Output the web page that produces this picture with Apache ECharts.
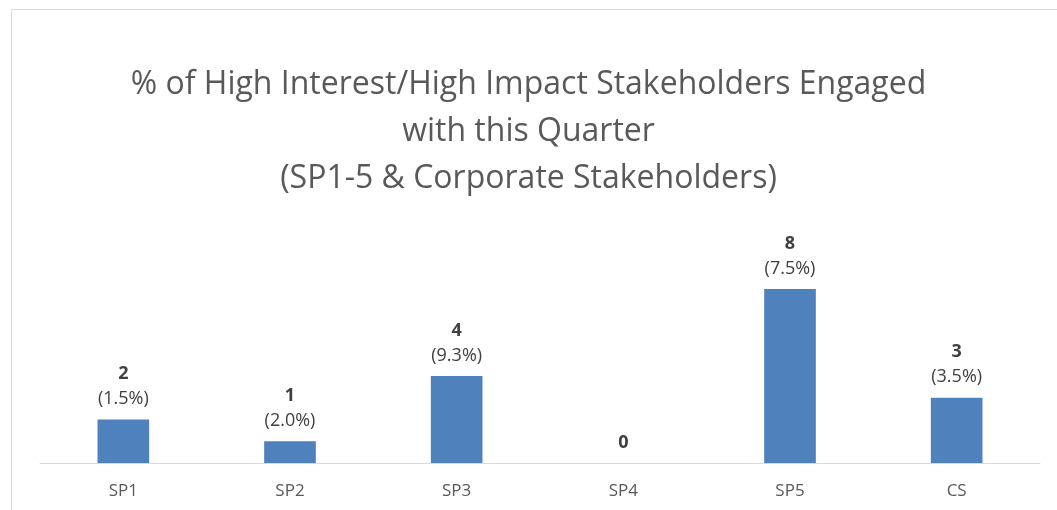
<!DOCTYPE html>
<html>
<head>
<meta charset="utf-8">
<title>Stakeholders Engaged</title>
<script src="https://cdn.jsdelivr.net/npm/echarts@6/dist/echarts.min.js"></script>
<style>
  html, body { margin: 0; padding: 0; background: #fff; }
  #myChartStakeholders { width: 1057px; height: 510px; }
</style>
</head>
<body>
<div id="myChartStakeholders"></div>
<script>
// 数据
var categories = ['SP1', 'SP2', 'SP3', 'SP4', 'SP5', 'CS'];
var engagedCounts = [2, 1, 4, 0, 8, 3];
var engagedPercents = ['1.5%', '2.0%', '9.3%', null, '7.5%', '3.5%'];

var myChart = echarts.init(document.getElementById('myChartStakeholders'));

var option = {
  backgroundColor: '#fff',
  title: {
    text: '% of High Interest/High Impact Stakeholders Engaged\nwith this Quarter\n(SP1-5 & Corporate Stakeholders)',
    left: 'center',
    top: 56,
    textStyle: {
      fontFamily: 'Open Sans',
      fontWeight: 'normal',
      fontSize: 32,
      lineHeight: 47,
      color: '#595959'
    }
  },
  // 外框线
  graphic: [{
    type: 'polyline',
    shape: { points: [[11.5, 510], [11.5, 9.5], [1057, 9.5]] },
    style: { stroke: '#d9d9d9', lineWidth: 1, fill: null },
    silent: true
  }],
  grid: {
    left: 40,
    right: 17,
    top: 245.5,
    bottom: 47,
    containLabel: false
  },
  xAxis: {
    type: 'category',
    data: categories,
    axisLine: { lineStyle: { color: '#d9d9d9', width: 1 } },
    axisTick: { show: false },
    axisLabel: {
      color: '#595959',
      fontFamily: 'Open Sans',
      fontSize: 17,
      margin: 20
    }
  },
  yAxis: {
    type: 'value',
    min: 0,
    max: 10,
    show: false,
    splitLine: { show: false }
  },
  series: [{
    type: 'bar',
    data: engagedCounts,
    barWidth: '31%',
    itemStyle: { color: '#4f81bd' },
    label: {
      show: true,
      position: 'top',
      distance: 8,
      formatter: function (p) {
        var pct = engagedPercents[p.dataIndex];
        return pct ? '{n|' + p.value + '}\n{p|(' + pct + ')}' : '{n|' + p.value + '}';
      },
      rich: {
        n: { fontFamily: 'Open Sans', fontWeight: 'bold', fontSize: 18, lineHeight: 25, color: '#404040' },
        p: { fontFamily: 'Open Sans', fontSize: 18, lineHeight: 25, color: '#404040' }
      }
    }
  }]
};

myChart.setOption(option);
</script>
</body>
</html>
